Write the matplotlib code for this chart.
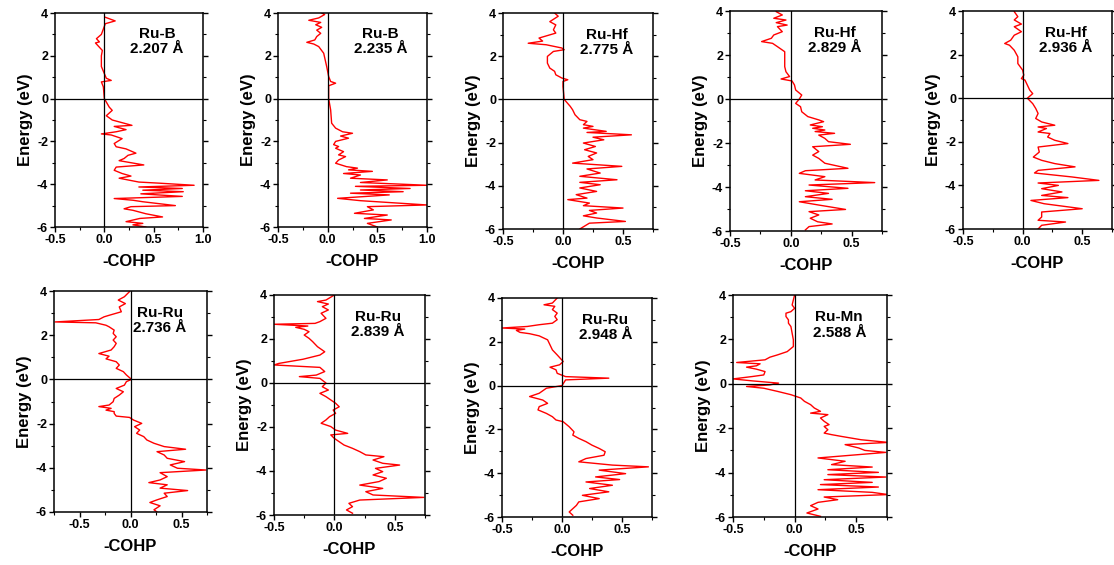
import matplotlib
matplotlib.use("Agg")
import matplotlib.pyplot as plt
from matplotlib.ticker import MultipleLocator, FormatStrFormatter

plt.rcParams["font.family"] = ["Liberation Sans", "DejaVu Sans"]
plt.rcParams["font.weight"] = "bold"
plt.rcParams["axes.unicode_minus"] = False

# ---- data: energy (eV) vs -COHP ----
e_rub1 = [3.80, 3.63, 3.50, 3.00, 2.80, 2.65, 2.60, 2.50, 2.25, 2.00, 1.50, 0.95, 0.85, 0.78, 0.55, 0.00,
          -0.40, -0.55, -0.80, -1.00, -1.25, -1.30, -1.45, -1.55, -1.65, -1.70, -1.87, -2.10, -2.25, -2.35,
          -2.55, -2.65, -2.80, -2.90, -3.10, -3.20, -3.35, -3.50, -3.62, -3.72, -3.90, -3.95, -4.05, -4.13,
          -4.20, -4.28, -4.35, -4.45, -4.57, -4.67, -4.75, -4.82, -5.00, -5.05, -5.15, -5.22, -5.38, -5.53,
          -5.60, -5.75, -5.83, -5.90, -6.00]
c_rub1 = [0.01, 0.11, 0.01, -0.03, -0.08, -0.05, -0.09, -0.07, -0.02, -0.03, -0.03, 0.02, 0.07, -0.03, -0.01, 0.00,
          0.05, 0.08, 0.02, 0.08, 0.28, 0.10, 0.22, 0.12, -0.03, 0.07, 0.18, 0.10, 0.12, 0.22,
          0.32, 0.24, 0.20, 0.15, 0.40, 0.12, 0.10, 0.18, 0.27, 0.15, 0.35, 0.55, 0.91, 0.35,
          0.79, 0.39, 0.80, 0.37, 0.79, 0.10, 0.29, 0.39, 0.72, 0.27, 0.20, 0.29, 0.42, 0.59,
          0.36, 0.22, 0.39, 0.29, 0.42]

e_rub2 = [4.00, 3.93, 3.77, 3.66, 3.56, 3.45, 3.33, 3.20, 3.05, 2.90, 2.74, 2.63, 2.55, 2.43, 2.12, 1.50,
          1.03, 0.80, 0.72, 0.60, 0.00, -0.53, -1.15, -1.38, -1.55, -1.62, -1.75, -1.85, -2.00, -2.15,
          -2.24, -2.32, -2.48, -2.63, -2.71, -2.87, -3.02, -3.18, -3.25, -3.33, -3.40, -3.50, -3.57, -3.72,
          -3.80, -3.92, -4.00, -4.05, -4.10, -4.20, -4.27, -4.35, -4.42, -4.50, -4.66, -4.77, -4.97, -5.05,
          -5.20, -5.36, -5.44, -5.60, -5.67, -5.83, -6.00]
c_rub2 = [-0.06, -0.03, -0.09, -0.19, -0.07, -0.12, -0.06, -0.11, -0.07, -0.11, -0.13, -0.21, -0.14, -0.09, -0.04, -0.01,
          0.01, 0.03, 0.08, 0.01, 0.01, 0.03, 0.04, 0.08, 0.15, 0.25, 0.13, 0.21, 0.08, 0.06,
          0.11, 0.08, 0.16, 0.11, 0.18, 0.11, 0.08, 0.19, 0.30, 0.21, 0.45, 0.16, 0.33, 0.23,
          0.60, 0.33, 0.75, 1.00, 0.28, 0.83, 0.33, 0.76, 0.23, 0.62, 0.10, 0.33, 1.00, 0.40,
          0.46, 0.27, 0.60, 0.37, 0.64, 0.40, 0.50]

e_ruhf1 = [4.00, 3.85, 3.60, 3.45, 3.22, 3.07, 2.84, 2.70, 2.60, 2.53, 2.38, 2.30, 2.22, 1.99, 1.68, 1.45,
           1.30, 1.14, 0.99, 0.91, 0.83, 0.60, 0.00, -0.32, -0.48, -0.71, -0.94, -1.02, -1.17, -1.25,
           -1.33, -1.48, -1.53, -1.64, -1.75, -1.87, -2.02, -2.18, -2.33, -2.48, -2.64, -2.79, -2.95, -3.10,
           -3.22, -3.41, -3.56, -3.72, -3.84, -3.95, -4.10, -4.26, -4.41, -4.57, -4.64, -4.80, -4.92, -5.03,
           -5.14, -5.26, -5.39, -5.49, -5.65, -5.73, -6.00]
c_ruhf1 = [-0.07, -0.04, -0.11, -0.06, -0.08, -0.06, -0.20, -0.17, -0.29, -0.14, -0.01, 0.01, -0.08, -0.13, -0.13, -0.11,
           -0.07, -0.06, -0.01, 0.04, 0.00, 0.00, 0.01, 0.06, 0.08, 0.10, 0.14, 0.20, 0.17, 0.25,
           0.17, 0.36, 0.20, 0.57, 0.25, 0.34, 0.17, 0.27, 0.18, 0.28, 0.21, 0.25, 0.08, 0.49,
           0.20, 0.31, 0.14, 0.45, 0.14, 0.31, 0.14, 0.28, 0.11, 0.20, 0.04, 0.22, 0.17, 0.50,
           0.22, 0.28, 0.17, 0.28, 0.52, 0.22, 0.14]

e_ruhf2 = [3.97, 3.82, 3.67, 3.59, 3.47, 3.36, 3.29, 3.06, 2.91, 2.76, 2.61, 2.53, 2.38, 2.15, 1.85, 1.47,
           1.24, 1.02, 0.91, 0.82, 0.64, 0.41, 0.18, 0.00, -0.20, -0.35, -0.58, -0.80, -0.95, -1.03,
           -1.18, -1.26, -1.33, -1.41, -1.48, -1.56, -1.64, -1.79, -1.94, -2.06, -2.17, -2.39, -2.55, -2.70,
           -2.92, -3.15, -3.26, -3.38, -3.53, -3.68, -3.80, -3.91, -4.06, -4.17, -4.29, -4.44, -4.56, -4.67,
           -4.82, -5.02, -5.12, -5.27, -5.42, -5.58, -5.68, -5.80, -5.95]
c_ruhf2 = [-0.12, -0.07, -0.14, -0.04, -0.12, -0.03, -0.11, -0.07, -0.14, -0.16, -0.24, -0.15, -0.11, -0.05, -0.05, -0.05,
           -0.04, -0.01, -0.08, 0.01, 0.03, 0.04, 0.09, 0.07, 0.04, 0.08, 0.09, 0.14, 0.23, 0.27,
           0.16, 0.26, 0.18, 0.28, 0.20, 0.36, 0.23, 0.28, 0.31, 0.49, 0.18, 0.23, 0.18, 0.23,
           0.28, 0.47, 0.12, 0.07, 0.28, 0.20, 0.69, 0.15, 0.47, 0.12, 0.31, 0.12, 0.34, 0.07,
           0.23, 0.45, 0.15, 0.23, 0.16, 0.22, 0.34, 0.15, 0.12]

e_ruhf3 = [3.97, 3.74, 3.59, 3.40, 3.28, 3.05, 2.89, 2.66, 2.51, 2.43, 2.20, 1.90, 1.59, 1.29, 1.06, 0.90,
           0.83, 0.60, 0.37, 0.21, 0.00, -0.25, -0.47, -0.70, -0.93, -1.09, -1.24, -1.32, -1.39, -1.55,
           -1.62, -1.78, -1.93, -2.08, -2.24, -2.47, -2.70, -2.85, -3.00, -3.15, -3.31, -3.43, -3.61, -3.77,
           -3.89, -4.00, -4.15, -4.30, -4.46, -4.56, -4.69, -4.84, -5.07, -5.22, -5.45, -5.60, -5.68, -5.83,
           -6.00]
c_ruhf3 = [-0.07, -0.04, -0.07, -0.01, -0.07, -0.01, -0.07, -0.10, -0.15, -0.11, -0.07, -0.04, -0.04, 0.00, 0.01, -0.01,
           0.02, 0.04, 0.06, 0.085, 0.04, 0.085, 0.11, 0.13, 0.11, 0.16, 0.27, 0.13, 0.20, 0.13,
           0.23, 0.21, 0.27, 0.38, 0.13, 0.14, 0.09, 0.16, 0.27, 0.44, 0.13, 0.10, 0.41, 0.64,
           0.13, 0.30, 0.16, 0.33, 0.16, 0.38, 0.07, 0.18, 0.50, 0.16, 0.16, 0.13, 0.36, 0.16,
           0.13]

e_ruru1 = [3.97, 3.74, 3.59, 3.43, 3.28, 3.06, 2.90, 2.83, 2.71, 2.60, 2.56, 2.45, 2.38, 2.23, 2.08, 1.93,
           1.78, 1.63, 1.48, 1.33, 1.17, 1.05, 0.93, 0.80, 0.65, 0.50, 0.35, 0.20, 0.00, -0.10,
           -0.26, -0.41, -0.56, -0.71, -0.86, -1.01, -1.16, -1.23, -1.31, -1.39, -1.46, -1.54, -1.66, -1.72,
           -1.84, -1.99, -2.14, -2.29, -2.44, -2.59, -2.74, -2.89, -3.04, -3.16, -3.27, -3.42, -3.57, -3.72,
           -3.87, -4.02, -4.10, -4.22, -4.40, -4.55, -4.67, -4.77, -4.92, -5.03, -5.15, -5.30, -5.45, -5.57,
           -5.72, -5.90, -6.00]
c_ruru1 = [-0.01, -0.06, -0.12, -0.05, -0.11, -0.09, -0.21, -0.26, -0.31, -0.74, -0.34, -0.24, -0.21, -0.16, -0.17, -0.14,
           -0.17, -0.14, -0.16, -0.19, -0.31, -0.21, -0.24, -0.14, -0.11, -0.14, -0.07, -0.04, 0.01, -0.04,
           -0.06, -0.14, -0.07, -0.11, -0.16, -0.17, -0.21, -0.31, -0.19, -0.24, -0.16, -0.16, -0.14, -0.01,
           0.03, 0.11, 0.04, 0.09, 0.06, 0.13, 0.16, 0.23, 0.33, 0.54, 0.26, 0.33, 0.36, 0.53,
           0.39, 0.46, 0.74, 0.29, 0.36, 0.29, 0.18, 0.36, 0.29, 0.56, 0.33, 0.36, 0.26, 0.19,
           0.29, 0.23, 0.26]

e_ruru2 = [4.00, 3.77, 3.70, 3.59, 3.47, 3.32, 3.17, 2.94, 2.79, 2.71, 2.67, 2.59, 2.53, 2.44, 2.33, 2.18,
           2.03, 1.88, 1.65, 1.42, 1.27, 1.08, 0.89, 0.82, 0.71, 0.52, 0.36, 0.29, 0.21, 0.00,
           -0.17, -0.32, -0.47, -0.62, -0.77, -0.92, -1.08, -1.23, -1.38, -1.53, -1.68, -1.83, -1.98, -2.14,
           -2.29, -2.36, -2.52, -2.67, -2.82, -2.97, -3.12, -3.27, -3.35, -3.50, -3.65, -3.73, -3.88, -4.03,
           -4.18, -4.33, -4.48, -4.64, -4.79, -4.94, -5.09, -5.20, -5.32, -5.47, -5.62, -5.77, -5.92]
c_ruru2 = [0.00, -0.07, -0.14, -0.05, -0.10, -0.05, -0.11, -0.07, -0.12, -0.16, -0.50, -0.22, -0.32, -0.25, -0.21, -0.25,
           -0.21, -0.18, -0.14, -0.08, -0.12, -0.26, -0.46, -0.50, -0.12, -0.08, -0.15, -0.29, -0.12, -0.07,
           -0.10, -0.05, -0.12, -0.07, -0.03, 0.01, 0.04, -0.01, 0.01, -0.04, -0.07, -0.11, -0.03, 0.01,
           0.11, -0.03, 0.00, 0.04, 0.08, 0.15, 0.21, 0.26, 0.41, 0.32, 0.40, 0.54, 0.34, 0.40,
           0.32, 0.43, 0.37, 0.21, 0.40, 0.26, 0.32, 0.74, 0.21, 0.12, 0.15, 0.10, 0.15]

e_ruru3 = [4.00, 3.77, 3.69, 3.62, 3.47, 3.31, 3.16, 3.01, 2.85, 2.78, 2.70, 2.63, 2.58, 2.52, 2.43, 2.37,
           2.27, 2.09, 1.86, 1.63, 1.40, 1.10, 0.95, 0.84, 0.72, 0.56, 0.41, 0.34, 0.26, 0.00,
           -0.12, -0.35, -0.50, -0.66, -0.81, -0.96, -1.11, -1.27, -1.42, -1.57, -1.65, -1.88, -2.11, -2.26,
           -2.41, -2.56, -2.72, -2.87, -3.02, -3.18, -3.33, -3.48, -3.63, -3.71, -3.86, -4.02, -4.17, -4.29,
           -4.40, -4.55, -4.70, -4.85, -5.01, -5.16, -5.31, -5.47, -5.62, -5.77, -5.92]
c_ruru3 = [-0.04, -0.08, -0.15, -0.06, -0.08, -0.04, -0.06, -0.04, -0.08, -0.19, -0.29, -0.50, -0.31, -0.38, -0.35, -0.27,
           -0.19, -0.12, -0.10, -0.08, -0.04, 0.01, -0.02, -0.10, -0.05, -0.04, 0.03, 0.39, 0.03, 0.00,
           -0.13, -0.19, -0.27, -0.16, -0.12, -0.19, -0.20, -0.13, -0.08, -0.05, 0.01, 0.06, 0.10, 0.09,
           0.14, 0.20, 0.25, 0.31, 0.36, 0.35, 0.20, 0.14, 0.42, 0.72, 0.31, 0.53, 0.28, 0.48,
           0.20, 0.42, 0.23, 0.39, 0.17, 0.31, 0.14, 0.12, 0.09, 0.06, 0.09]

e_rumn = [4.00, 3.78, 3.55, 3.40, 3.25, 3.18, 3.03, 2.88, 2.73, 2.58, 2.28, 1.98, 1.68, 1.45, 1.30, 1.20,
          1.08, 0.96, 0.90, 0.81, 0.75, 0.66, 0.55, 0.40, 0.33, 0.22, 0.13, 0.03, -0.05, -0.12,
          -0.20, -0.34, -0.49, -0.64, -0.79, -0.94, -1.09, -1.24, -1.32, -1.39, -1.54, -1.69, -1.84, -1.92,
          -2.07, -2.22, -2.29, -2.37, -2.52, -2.64, -2.74, -2.89, -3.00, -3.09, -3.19, -3.34, -3.49, -3.64,
          -3.75, -3.87, -3.99, -4.09, -4.20, -4.32, -4.44, -4.54, -4.65, -4.77, -4.89, -4.99, -5.10, -5.22,
          -5.34, -5.49, -5.64, -5.82, -5.97]
c_rumn = [0.00, -0.01, -0.02, 0.00, -0.03, -0.07, -0.07, -0.05, -0.05, -0.03, -0.02, -0.01, -0.01, -0.06, -0.14, -0.20,
          -0.24, -0.47, -0.28, -0.31, -0.39, -0.31, -0.24, -0.25, -0.34, -0.50, -0.34, -0.13, -0.20, -0.39,
          -0.25, -0.14, -0.03, 0.05, 0.08, 0.13, 0.16, 0.21, 0.13, 0.27, 0.21, 0.24, 0.28, 0.24,
          0.27, 0.24, 0.30, 0.38, 0.54, 0.76, 0.41, 0.52, 0.57, 0.74, 0.52, 0.19, 0.41, 0.30,
          0.63, 0.27, 0.68, 0.27, 0.74, 0.24, 0.63, 0.21, 0.68, 0.19, 0.63, 0.76, 0.24, 0.35,
          0.19, 0.13, 0.19, 0.10, 0.21]

labels = ["Ru-B\n2.207 Å", "Ru-B\n2.235 Å", "Ru-Hf\n2.775 Å", "Ru-Hf\n2.829 Å", "Ru-Hf\n2.936 Å",
          "Ru-Ru\n2.736 Å", "Ru-Ru\n2.839 Å", "Ru-Ru\n2.948 Å", "Ru-Mn\n2.588 Å"]
energies = [e_rub1, e_rub2, e_ruhf1, e_ruhf2, e_ruhf3, e_ruru1, e_ruru2, e_ruru3, e_rumn]
cohps = [c_rub1, c_rub2, c_ruhf1, c_ruhf2, c_ruhf3, c_ruru1, c_ruru2, c_ruru3, c_rumn]
xlims = [(-0.5, 1.0), (-0.5, 1.0), (-0.5, 0.75), (-0.5, 0.75), (-0.5, 0.75),
         (-0.75, 0.75), (-0.5, 0.75), (-0.5, 0.75), (-0.5, 0.75)]

# panel boxes in pixels: left, top, right, bottom
boxes = [(55, 13, 203, 227), (278, 13, 427, 227), (503, 13, 653, 229), (730, 11, 882, 231),
         (963, 11, 1112, 229), (54, 291, 207, 512), (274, 295, 425, 515), (502, 298, 652, 517),
         (733, 295, 887, 517)]

W, H = 1114, 565
fig = plt.figure(figsize=(W / 100, H / 100), dpi=100)

for i in range(9):
    l, t, r, b = boxes[i]
    ax = fig.add_axes([l / W, 1 - b / H, (r - l) / W, (b - t) / H])
    ax.plot(cohps[i], energies[i], color="red", lw=1.0)
    ax.axhline(0, color="black", lw=0.9)
    ax.axvline(0, color="black", lw=0.9)
    ax.set_xlim(*xlims[i])
    ax.set_ylim(-6, 4)
    ax.xaxis.set_major_locator(MultipleLocator(0.5))
    ax.xaxis.set_minor_locator(MultipleLocator(0.25))
    ax.yaxis.set_major_locator(MultipleLocator(2))
    ax.yaxis.set_minor_locator(MultipleLocator(1))
    ax.xaxis.set_major_formatter(FormatStrFormatter("%.1f"))
    ax.tick_params(which="major", direction="out", length=3.5, width=1.0, labelsize=9, pad=1.5, right=True)
    ax.tick_params(which="minor", direction="out", length=2, width=0.8, right=True)
    for s in ax.spines.values():
        s.set_linewidth(1.1)
    ax.set_xlabel("-COHP", fontsize=12, fontweight="bold", labelpad=6)
    ax.set_ylabel("Energy (eV)", fontsize=12, fontweight="bold", labelpad=3)
    ax.text(0.69, 0.865, labels[i], transform=ax.transAxes, ha="center", va="center",
            fontsize=11, fontweight="bold", linespacing=1.1)

fig.savefig("out.png", dpi=100)
